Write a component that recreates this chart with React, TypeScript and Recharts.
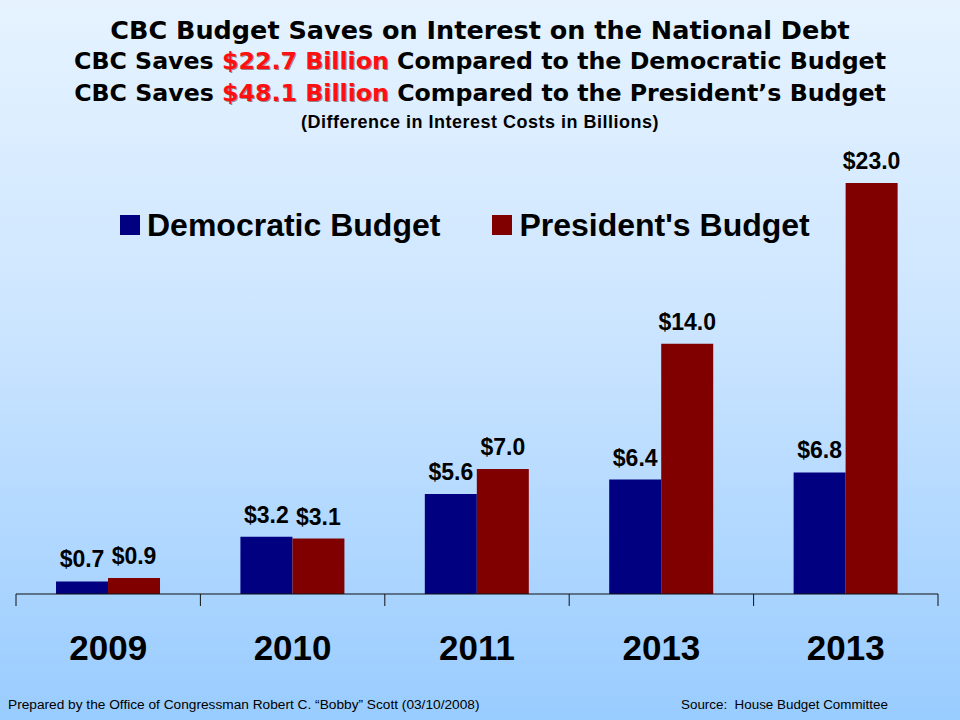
import React from "react";
import { BarChart, Bar, XAxis, YAxis, Legend, LabelList } from "recharts";

const years = ["2009", "2010", "2011", "2013", "2013"];
const democratic = [0.7, 3.2, 5.6, 6.4, 6.8];
const president = [0.9, 3.1, 7.0, 14.0, 23.0];

const data = years.map((year, i) => ({
  year,
  democratic: democratic[i],
  president: president[i],
}));

const W = 960;
const H = 720;
const LEFT = 16;
const RIGHT = 22;
const AXIS_Y = 594;
const X_AXIS_H = 90;
const BAND = (W - LEFT - RIGHT) / years.length;
const FONT = "'Liberation Sans', Arial, sans-serif";
const TITLE_FONT = "'DejaVu Sans', Verdana, sans-serif";

const BLUE = "#000080";
const RED = "#800000";

const fmt = (v: any) => `$${Number(v).toFixed(1)}`;

const YearTick = ({ x, y, payload, index }: any) => {
  const left = x - BAND / 2;
  return (
    <g>
      <line x1={left} y1={y} x2={left} y2={y + 12} stroke="#111" />
      {index === years.length - 1 && (
        <line x1={left + BAND} y1={y} x2={left + BAND} y2={y + 12} stroke="#111" />
      )}
      <text
        x={x}
        y={y + 66}
        textAnchor="middle"
        fontFamily={FONT}
        fontWeight="bold"
        fontSize={35}
        fill="#000"
      >
        {payload.value}
      </text>
    </g>
  );
};

const LegendBox = () => {
  const items = [
    { label: "Democratic Budget", color: BLUE },
    { label: "President's Budget", color: RED },
  ];
  return (
    <div style={{ display: "flex", alignItems: "center", gap: 52 }}>
      {items.map((it) => (
        <div key={it.label} style={{ display: "flex", alignItems: "center" }}>
          <span
            style={{
              display: "inline-block",
              width: 20,
              height: 20,
              background: it.color,
              marginRight: 7,
            }}
          />
          <span
            style={{
              fontFamily: FONT,
              fontWeight: "bold",
              fontSize: 32,
              color: "#000",
              lineHeight: "36px",
            }}
          >
            {it.label}
          </span>
        </div>
      ))}
    </div>
  );
};

const titleLine = (top: number, size: number, family = TITLE_FONT): React.CSSProperties => ({
  position: "absolute",
  left: 0,
  top,
  width: W,
  textAlign: "center",
  fontFamily: family,
  fontWeight: "bold",
  fontSize: size,
  lineHeight: `${size + 4}px`,
  color: "#000",
  whiteSpace: "nowrap",
});

const redText: React.CSSProperties = {
  color: "#ff1010",
  textShadow: "1px 1px 0 rgba(60,0,0,0.45)",
};

export default function App() {
  return (
    <div
      style={{
        position: "absolute",
        left: 0,
        top: 0,
        width: W,
        height: H,
        overflow: "hidden",
        background: "linear-gradient(to bottom, #e6f3ff 0%, #cce5ff 45%, #99ccff 100%)",
      }}
    >
      <div style={titleLine(16, 25.5)}>CBC Budget Saves on Interest on the National Debt</div>
      <div style={titleLine(48, 23.7)}>
        CBC Saves <span style={redText}>$22.7 Billion</span> Compared to the Democratic Budget
      </div>
      <div style={titleLine(80, 23.7)}>
        CBC Saves <span style={redText}>$48.1 Billion</span> Compared to the President’s Budget
      </div>
      <div style={{ ...titleLine(111, 18, FONT), letterSpacing: 0.5 }}>
        (Difference in Interest Costs in Billions)
      </div>

      <div style={{ position: "absolute", left: 0, top: 0 }}>
        <BarChart
          width={W}
          height={H}
          data={data}
          margin={{ top: 165, right: RIGHT, left: LEFT, bottom: H - AXIS_Y - X_AXIS_H }}
          barCategoryGap="21.7%"
          barGap={0}
        >
          <XAxis
            dataKey="year"
            height={X_AXIS_H}
            axisLine={{ stroke: "#111" }}
            tickLine={false}
            tickSize={0}
            tickMargin={0}
            interval={0}
            tick={<YearTick />}
          />
          <YAxis hide domain={[0, 24]} />
          <Legend
            layout="horizontal"
            verticalAlign="middle"
            align="center"
            content={<LegendBox />}
            wrapperStyle={{ top: 207, left: 120, width: "auto" }}
          />
          <Bar dataKey="democratic" name="Democratic Budget" fill={BLUE} isAnimationActive={false}>
            <LabelList
              dataKey="democratic"
              position="top"
              offset={14}
              formatter={fmt}
              style={{ fontFamily: FONT, fontWeight: "bold", fontSize: 23, fill: "#000" }}
            />
          </Bar>
          <Bar dataKey="president" name="President's Budget" fill={RED} isAnimationActive={false}>
            <LabelList
              dataKey="president"
              position="top"
              offset={14}
              formatter={fmt}
              style={{ fontFamily: FONT, fontWeight: "bold", fontSize: 23, fill: "#000" }}
            />
          </Bar>
        </BarChart>
      </div>

      <div
        style={{
          position: "absolute",
          left: 8,
          top: 697,
          fontFamily: FONT,
          fontSize: 13.7,
          color: "#000",
          whiteSpace: "nowrap",
        }}
      >
        Prepared by the Office of Congressman Robert C. “Bobby” Scott (03/10/2008)
      </div>
      <div
        style={{
          position: "absolute",
          left: 681,
          top: 697,
          fontFamily: FONT,
          fontSize: 13.4,
          color: "#000",
          whiteSpace: "pre",
        }}
      >
        Source:  House Budget Committee
      </div>
    </div>
  );
}
